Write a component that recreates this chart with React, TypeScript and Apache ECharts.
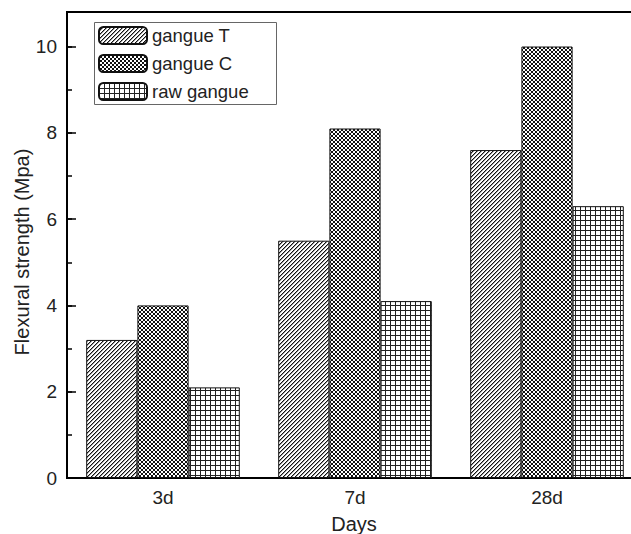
import React, { useEffect, useRef } from "react";
import * as echarts from "echarts";

const categories = ["3d", "7d", "28d"];
const seriesNames = ["gangue T", "gangue C", "raw gangue"];
const gangueT = [3.2, 5.5, 7.6];
const gangueC = [4.0, 8.1, 10.0];
const rawGangue = [2.1, 4.1, 6.3];
const yTicks = [0, 2, 4, 6, 8, 10];
const xTitle = "Days";
const yTitle = "Flexural strength (Mpa)";

const FONT = "'Liberation Sans', Arial, sans-serif";

// Small pixel tiles used as repeating fills for the bars.
function makeTile(size: number, draw: (ctx: CanvasRenderingContext2D, s: number) => void) {
  const c = document.createElement("canvas");
  c.width = size;
  c.height = size;
  const ctx = c.getContext("2d")!;
  ctx.fillStyle = "#fff";
  ctx.fillRect(0, 0, size, size);
  draw(ctx, size);
  return c;
}

function hatchTile() {
  return makeTile(4, (ctx, s) => {
    for (let i = 0; i < s; i++) {
      ctx.fillStyle = "#111";
      ctx.fillRect(i, s - 1 - i, 1, 1);
      ctx.fillStyle = "#999";
      ctx.fillRect((i + 1) % s, s - 1 - i, 1, 1);
    }
  });
}

function crossTile() {
  return makeTile(4, (ctx, s) => {
    ctx.fillStyle = "#111";
    for (let i = 0; i < s; i++) {
      ctx.fillRect(i, s - 1 - i, 1, 1);
      ctx.fillRect(i, i, 1, 1);
    }
  });
}

function gridTile() {
  return makeTile(5, (ctx, s) => {
    ctx.fillStyle = "#222";
    ctx.fillRect(0, 0, s, 1);
    ctx.fillRect(0, 0, 1, s);
  });
}

export default function App() {
  const ref = useRef<HTMLDivElement>(null);

  useEffect(() => {
    if (!ref.current) return;
    const chart = echarts.init(ref.current, undefined, { renderer: "svg" });

    const pattern = (img: HTMLCanvasElement) => ({
      image: img,
      repeat: "repeat",
      imageWidth: img.width,
      imageHeight: img.height,
    });
    const fills = [pattern(hatchTile()), pattern(crossTile()), pattern(gridTile())];
    const values = [gangueT, gangueC, rawGangue];

    chart.setOption({
      animation: false,
      backgroundColor: "#fff",
      textStyle: { fontFamily: FONT },
      grid: {
        left: 67,
        top: 12,
        bottom: 56,
        right: -12,
        outerBoundsMode: "none",
        containLabel: false,
        show: true,
        borderColor: "#000",
        borderWidth: 2,
        backgroundColor: "transparent",
      },
      legend: {
        orient: "vertical",
        left: 98,
        top: 26,
        itemWidth: 48,
        itemHeight: 17,
        itemGap: 9,
        padding: 0,
        selectedMode: false,
        textStyle: { fontSize: 18.5, color: "#222", fontFamily: FONT },
        data: seriesNames,
      },
      graphic: [
        {
          type: "rect",
          left: 92,
          top: 20,
          shape: { width: 182, height: 82 },
          style: { fill: "none", stroke: "#666", lineWidth: 1 },
          z: 100,
        },
        {
          type: "text",
          x: 354,
          y: 524,
          style: {
            text: xTitle,
            font: `20px ${FONT}`,
            fill: "#222",
            align: "center",
            verticalAlign: "middle",
          },
        },
        {
          type: "text",
          x: 22,
          y: 252,
          rotation: Math.PI / 2,
          style: {
            text: yTitle,
            font: `20px ${FONT}`,
            fill: "#222",
            align: "center",
            verticalAlign: "middle",
          },
        },
      ],
      xAxis: {
        type: "category",
        data: categories,
        boundaryGap: true,
        axisLine: { lineStyle: { color: "#000", width: 2 } },
        axisTick: { show: false },
        axisLabel: { fontSize: 19, color: "#222", margin: 10, fontFamily: FONT },
        splitLine: { show: false },
      },
      yAxis: [
        {
          type: "value",
          min: yTicks[0],
          max: 10.8,
          interval: yTicks[1] - yTicks[0],
          axisLine: { show: true, lineStyle: { color: "#000", width: 2 } },
          axisTick: { show: true, inside: true, length: 9, lineStyle: { color: "#000", width: 1.5 } },
          axisLabel: {
            fontSize: 19,
            color: "#222",
            margin: 10,
            fontFamily: FONT,
            showMaxLabel: false,
            formatter: (v: number) => (yTicks.includes(v) ? String(v) : ""),
          },
          splitLine: { show: false },
        },
        {
          type: "value",
          position: "left",
          min: 0,
          max: 10.8,
          interval: 1,
          axisLine: { show: false },
          axisTick: { show: true, inside: true, length: 5, lineStyle: { color: "#000", width: 1.5 } },
          axisLabel: { show: false },
          splitLine: { show: false },
        },
      ],
      series: seriesNames.map((name, i) => ({
        name,
        type: "bar",
        yAxisIndex: 0,
        data: values[i],
        barGap: "0%",
        barCategoryGap: "20%",
        itemStyle: { color: fills[i], borderColor: "#111", borderWidth: 1 },
      })),
    });

    return () => chart.dispose();
  }, []);

  return (
    <div
      ref={ref}
      style={{ position: "fixed", left: 0, top: 0, width: 631, height: 534, background: "#fff" }}
    />
  );
}
